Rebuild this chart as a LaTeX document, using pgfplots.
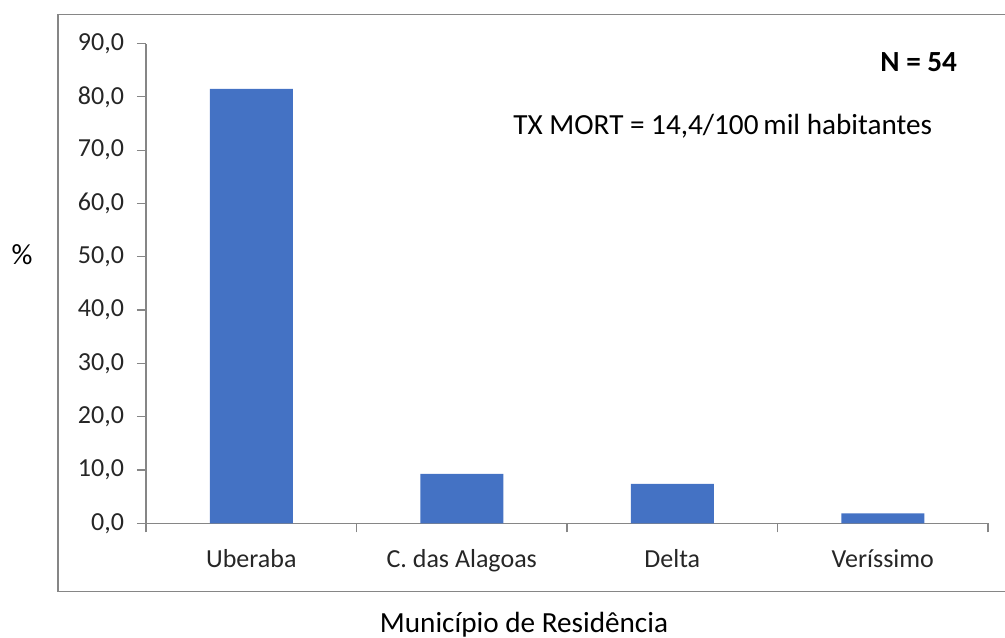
\documentclass[border=0pt]{standalone}
\usepackage{pgfplots}
\pgfplotsset{compat=1.18}
\usepackage{fontspec}
\setmainfont{Carlito}

\definecolor{barblue}{HTML}{4472C4}
\definecolor{axisgray}{HTML}{868686}
\definecolor{textgray}{HTML}{262626}

\begin{document}
\begin{tikzpicture}
  % page = 1005 x 637 px at 0.5pt per px
  \useasboundingbox (0,0) rectangle (502.5pt,318.5pt);
  % chart area border (right edge falls outside the page)
  \draw[axisgray, line width=0.6pt] (510pt,311.2pt) -- (29pt,311.2pt) -- (29pt,22.65pt) -- (510pt,22.65pt);

  \begin{axis}[
      at={(73pt,56.85pt)}, anchor=south west,
      scale only axis,
      width=421pt, height=239.9pt,
      ybar, bar width=41.5pt,
      xmin=-0.5, xmax=3.5,
      ymin=0, ymax=90,
      axis lines*=left,
      axis line style={axisgray, line width=0.6pt},
      tick align=outside,
      major tick length=4.5pt,
      xtick={0,1,2,3},
      xticklabels={Uberaba, C. das Alagoas, Delta, Veríssimo},
      major x tick style={draw=none},
      minor xtick={-0.5,0.5,1.5,2.5,3.5},
      minor x tick style={axisgray, line width=0.6pt},
      minor tick length=4.5pt,
      ytick={0,10,...,90},
      y tick style={axisgray, line width=0.6pt},
      /pgf/number format/fixed,
      /pgf/number format/fixed zerofill,
      /pgf/number format/precision=1,
      /pgf/number format/use comma,
      /pgf/number format/assume math mode=true,
      tick label style={font=\fontsize{13}{15}\selectfont, color=textgray},
      xticklabel style={yshift=-5pt},
      yticklabel style={xshift=-3pt},
    ]
    \addplot[fill=barblue, draw=none] coordinates {
      (0,81.5)
      (1,9.26)
      (2,7.41)
      (3,1.85)
    };
  \end{axis}

  \node[anchor=base west, inner sep=0pt, font=\fontsize{14.6}{17}\selectfont\bfseries] at (440pt,282.5pt) {N = 54};
  \node[anchor=base west, inner sep=0pt, font=\fontsize{14.6}{17}\selectfont] at (256.5pt,251pt) {TX MORT = 14,4/100\,mil habitantes};
  \node[anchor=base, font=\fontsize{14.6}{17}\selectfont] at (11pt,186pt) {\%};
  \node[anchor=base, font=\fontsize{14.6}{17}\selectfont] at (262pt,2.5pt) {Município de Residência};
\end{tikzpicture}
\end{document}
